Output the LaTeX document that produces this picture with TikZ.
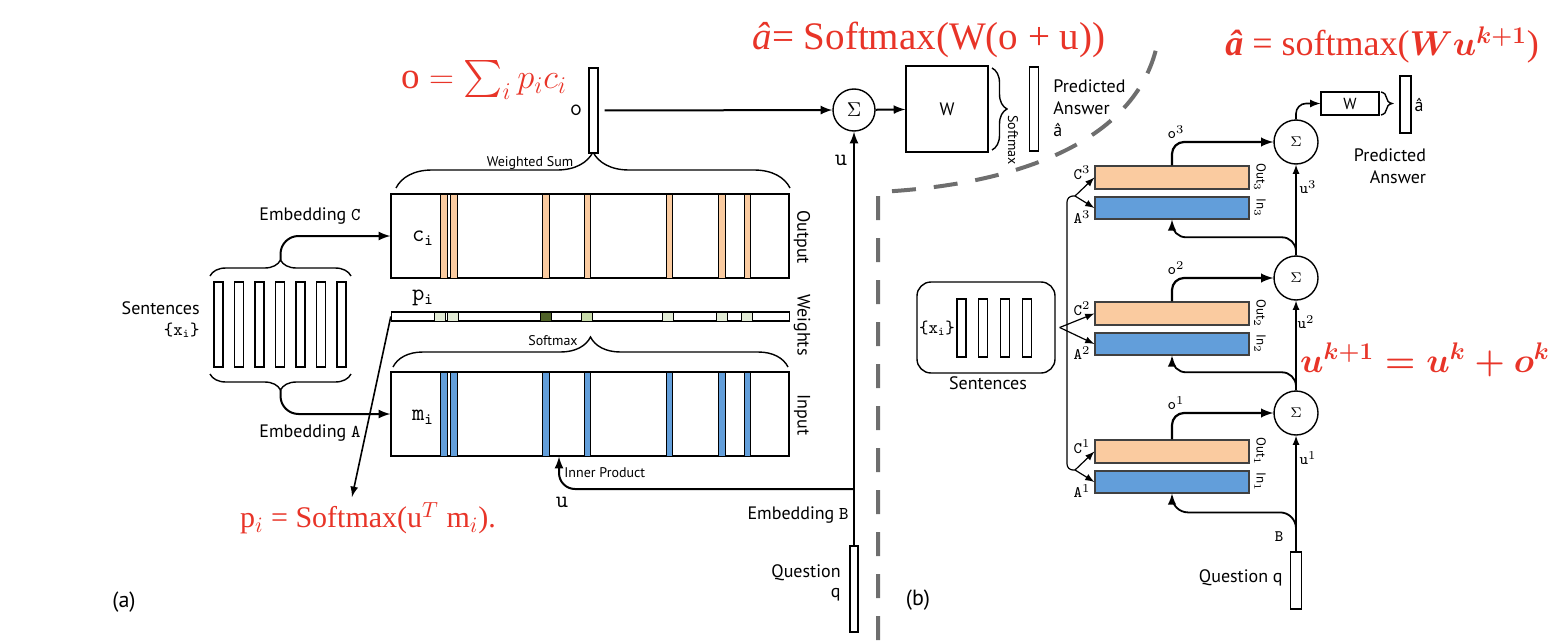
\documentclass[tikz,border=0pt]{standalone}
\usepackage{amssymb,amsmath}
\usepackage{fontspec}
\setmainfont{Liberation Serif}
\setsansfont{PT Sans}
\usepackage{tikz}
\usetikzlibrary{%
  arrows,%
  calc,%
  decorations.pathreplacing%
}
\tikzset{>=latex}
\definecolor{redtxt}{RGB}{232,52,40}
\definecolor{peach}{RGB}{250,203,160}
\definecolor{blueb}{RGB}{98,158,218}
\definecolor{dashgray}{RGB}{110,110,110}
\definecolor{wlight}{RGB}{226,235,213}
\definecolor{wmid}{RGB}{200,219,170}
\definecolor{wdark}{RGB}{79,98,40}
\tikzset{
  vec/.style={draw, fill=white, line width=0.6pt, inner sep=0pt, minimum width=4.5pt, minimum height=42.5pt},
  mat/.style={draw, line width=0.7pt, inner sep=0pt, minimum width=199pt, minimum height=42pt},
  lbl/.style={font=\sffamily\fontsize{9}{11}\selectfont, inner sep=0pt},
  smalllbl/.style={font=\sffamily\fontsize{7}{8}\selectfont, inner sep=0pt},
  ttl/.style={font=\ttfamily\fontsize{12}{14}\selectfont, inner sep=0pt},
  sup/.style={font=\ttfamily\fontsize{8}{9}\selectfont, inner sep=0pt},
  redf/.style={text=redtxt, inner sep=0pt},
  sumnode/.style={draw, circle, line width=0.7pt, inner sep=0pt},
  outbox/.style={draw=black!75, fill=peach, line width=0.6pt, inner sep=0pt, minimum width=77pt, minimum height=11.5pt},
  inbox/.style={draw=black!75, fill=blueb, line width=0.6pt, inner sep=0pt, minimum width=77pt, minimum height=11pt},
  brc/.style={decorate, decoration={brace, amplitude=#1}, line width=0.7pt}
}

\begin{document}
\begin{tikzpicture}[x=0.5pt,y=-0.5pt]
    \useasboundingbox (0,0) rectangle (1556,642);
    % (a) single layer
    \foreach \i in {0,...,6}
        \node[vec] (s\i) at (218.5+20.5*\i,324.5) {};
    \node[lbl, anchor=east] (sent) at (200,308) {Sentences};
    \node[lbl, anchor=east, font=\ttfamily\fontsize{9}{10}\selectfont] (xi) at (200,330) {\{x$_{\texttt{i}}$\}};
    \draw[brc=8pt] (210,276) -- (351,276);
    \draw[brc=8pt] (351,374) -- (210,374);
    \coordinate (stop) at (280.5,260);
    \coordinate (sbot) at (280.5,390);

    \node[mat] (Cmat) at (590,236) {};
    \node[mat, minimum height=4.5pt] (Wts) at (590.5,316.5) {};
    \node[mat] (Mmat) at (590,414) {};
    \foreach \x in {444,454,546,587.5,669.5,722,747.5}{
        \draw[fill=peach, line width=0.4pt] (\x-3.2,194) rectangle (\x+3.2,278);
        \draw[fill=blueb, line width=0.4pt] (\x-3.2,372) rectangle (\x+3.2,456);
    }
    \foreach \x/\c in {439.5/wlight,452.5/wlight,545.5/wdark,586.5/wmid,668/wlight,721.5/wlight,746.5/wlight}
        \draw[fill=\c, line width=0.4pt] (\x-5.5,312) rectangle (\x+5.5,321);
    \node[ttl] (ci) at (423,238) {c$_{\texttt{i}}$};
    \node[ttl] (pi) at (423,298) {p$_{\texttt{i}}$};
    \node[ttl] (mi) at (423,417) {m$_{\texttt{i}}$};
    \node[lbl, rotate=-90] (outl) at (802,237) {Output};
    \node[lbl, rotate=-90] (wtsl) at (802,325) {Weights};
    \node[lbl, rotate=-90] (inl) at (802,415) {Input};

    \draw[->, line width=1pt, rounded corners=9pt] (stop) |- (Cmat.west);
    \draw[->, line width=1pt, rounded corners=9pt] (sbot) |- (Mmat.west);
    \node[lbl] (embC) at (310,216) {Embedding \texttt{C}};
    \node[lbl] (embA) at (310,433) {Embedding \texttt{A}};

    \draw[brc=18pt] (396,188) -- (790,188);
    \node[smalllbl] (wsum) at (530,163) {Weighted Sum};
    \draw[brc=15pt] (393,367) -- (788,367);
    \node[smalllbl] (smx) at (553,341) {Softmax};

    \node[vec] (ovec) at (593.5,110.5) {};
    \node[ttl] (olbl) at (576,110) {o};
    \node[sumnode, minimum size=21pt, font=\fontsize{10}{12}\selectfont] (sig) at (854,110) {$\Sigma$};
    \node[draw, line width=0.7pt, minimum width=41pt, minimum height=43pt, font=\sffamily\fontsize{9}{11}\selectfont] (Wbig) at (947,109) {W};
    \draw[brc=7.5pt] (992,68) -- (992,150);
    \node[smalllbl, rotate=-90] (smx2) at (1013,140) {Softmax};
    \node[vec, minimum height=42pt] (avec) at (1034,109) {};
    \node[lbl, align=left, anchor=west] (pred) at (1053,108) {Predicted\\Answer\\\^{a}};
    \draw[->, line width=1pt, shorten <=3pt] (ovec) -- (sig);
    \draw[->, line width=1pt] (sig) -- (Wbig);

    \node[vec, minimum width=4pt, minimum height=43pt] (qa) at (854,589) {};
    \draw[->, line width=1pt] (qa.north) -- (sig.south);
    \node[ttl] (ulbl) at (841,160) {u};
    \coordinate (ubr) at (854,489);
    \draw[->, line width=1pt, rounded corners=8pt] (ubr) -| ([xshift=-15.5pt]Mmat.south);
    \node[smalllbl, anchor=west] (inner) at (564,473) {Inner Product};
    \node[ttl] (ulbl2) at (562,502) {u};
    \node[lbl, anchor=east] (embB) at (849,515) {Embedding \texttt{B}};
    \node[lbl, anchor=east] (quest) at (841,573) {Question};
    \node[lbl, anchor=east] (qq) at (841,595) {q};

    \node[redf, font=\fontsize{15}{18}\selectfont] (fp) at (368,518) {p$_i$ = Softmax(u$^T$ m$_i$).};
    \coordinate (ptip) at (352,497);
    \draw[->, line width=0.8pt] (Wts.west) -- (ptip);
    \node[redf, font=\fontsize{18.5}{21}\selectfont] (fo) at (484,80) {$\mathrm{o} = \sum_i p_i c_i$};
    \node[redf, font=\fontsize{19.5}{22}\selectfont] (fa) at (929,40) {\textit{â}= Softmax(W(o + u))};
    \node[font=\sffamily\fontsize{11}{13}\selectfont] (la) at (124,602) {(a)};

    % separator
    \draw[dashgray, line width=2pt, dash pattern=on 12pt off 9pt] (878,640) -- (878,192) .. controls (1020,185) and (1140,140) .. (1158,40);

    % (b) three layers
    \node[draw, rounded corners=7pt, line width=0.7pt, minimum width=69pt, minimum height=45.5pt] (sb) at (986,327.5) {};
    \foreach \i in {0,...,3}
        \node[vec, minimum height=29pt] (b\i) at (961.5+21.7*\i,328) {};
    \node[lbl, font=\ttfamily\fontsize{9}{10}\selectfont] (xib) at (937,328) {\{x$_{\texttt{i}}$\}};
    \node[lbl] (sentb) at (988,383) {Sentences};

    \foreach \k/\y in {3/177.5,2/313.5,1/451.5}{
        \node[outbox] (C\k) at (1172,\y) {};
        \node[inbox] (A\k) at (1172,\y+30.5) {};
        \node[sup] (lC\k) at (1082,\y-5) {C$^{\k}$};
        \node[sup] (lA\k) at (1082,\y+39.5) {A$^{\k}$};
        \node[smalllbl, rotate=-90, font=\sffamily\fontsize{6.5}{7}\selectfont] (lo\k) at (1260,\y) {Out$_{\k}$};
        \node[smalllbl, rotate=-90, font=\sffamily\fontsize{6.5}{7}\selectfont] (li\k) at (1260,\y+30.5) {In$_{\k}$};
    }
    \foreach \k/\y in {3/142,2/278,1/413}{
        \node[sumnode, minimum size=22pt, font=\fontsize{7}{8}\selectfont] (S\k) at (1296,\y) {$\Sigma$};
        \node[sup] (lo\k) at (1176,\y-10) {o$^{\k}$};
        \draw[->, line width=1.1pt, rounded corners=6pt] (C\k.north) |- (S\k.west);
    }
    \draw[->, line width=0.6pt] (S1.north) -- (S2.south);
    \draw[->, line width=0.6pt] (S2.north) -- (S3.south);
    \draw[->, line width=0.9pt, rounded corners=7pt] (S2.north) -- ++(0,-18) -| (A3.south);
    \draw[->, line width=0.9pt, rounded corners=7pt] (S1.north) -- ++(0,-18) -| (A2.south);

    \node[vec, minimum width=5.5pt, minimum height=28.5pt] (qb) at (1296,580.5) {};
    \draw[->, line width=0.6pt] (qb.north) -- (S1.south);
    \draw[->, line width=0.9pt, rounded corners=8pt] (qb.north) -- ++(0,-39) -| (A1.south);
    \node[lbl, anchor=east] (questb) at (1283,578) {Question q};
    \node[sup] (lu1) at (1308,458) {u$^{1}$};
    \node[sup] (lu2) at (1306,322) {u$^{2}$};
    \node[sup] (lu3) at (1308,187) {u$^{3}$};
    \node[sup] (lB) at (1279,537) {B};

    \node[draw, line width=0.6pt, minimum width=29pt, minimum height=11.5pt, inner sep=0pt, font=\sffamily\fontsize{8}{9}\selectfont] (Wb) at (1350,103.5) {W};
    \draw[->, line width=0.8pt, rounded corners=5pt] (S3.north) |- (Wb.west);
    \draw[brc=5.5pt] (1381,92) -- (1381,115);
    \node[vec, minimum width=5.5pt, minimum height=28.5pt] (avb) at (1405.5,104.5) {};
    \node[lbl] (ahb) at (1419,105) {\^{a}};
    \node[lbl, align=right] (predb) at (1390,166) {Predicted\\Answer};

    \coordinate (F3) at (1075,196);
    \coordinate (F2) at ([xshift=2pt]sb.east);
    \coordinate (F1) at (1075,470);
    \draw[line width=0.6pt, rounded corners=3pt] (F3) -- (1067,196) -- (1067,470) -- (F1);
    \foreach \k in {1,2,3}{
        \draw[->, line width=0.6pt] (F\k) -- (C\k.west);
        \draw[->, line width=0.6pt] (F\k) -- (A\k.west);
    }

    \node[redf, font=\fontsize{18}{21}\selectfont] (fb) at (1382,45) {\textbf{\textit{â}} = softmax($\boldsymbol{Wu^{k+1}}$)};
    \node[redf, font=\fontsize{17.5}{21}\selectfont] (fu) at (1425,360) {$\boldsymbol{u^{k+1}=u^k+o^k}$};
    \node[font=\sffamily\fontsize{11}{13}\selectfont] (lb) at (918,600) {(b)};
\end{tikzpicture}
\end{document}
